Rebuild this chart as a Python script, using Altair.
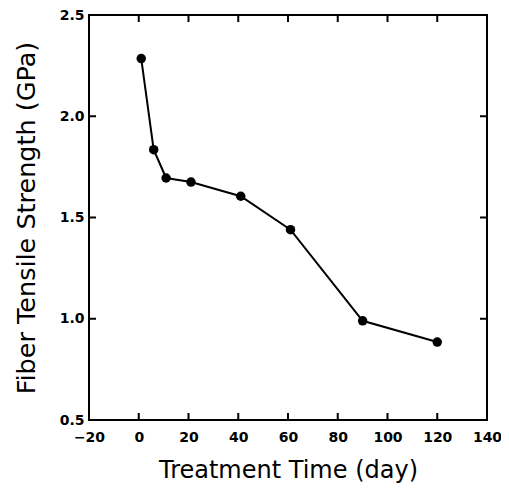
import altair as alt
import pandas as pd

# Data
days = [1, 6, 11, 21, 41, 61, 90, 120]
strength = [2.285, 1.835, 1.695, 1.675, 1.605, 1.44, 0.99, 0.885]
x_ticks = [-20, 0, 20, 40, 60, 80, 100, 120, 140]
y_ticks = [0.5, 1.0, 1.5, 2.0, 2.5]

df = pd.DataFrame({"day": days, "strength": strength})
xt = pd.DataFrame({"v": x_ticks})
yt = pd.DataFrame({"v": y_ticks})

W, H = 398, 405
TICK = 7
FONT = "DejaVu Sans"

xs = alt.Scale(domain=[-20, 140], nice=False, zero=False)
ys = alt.Scale(domain=[0.5, 2.5], nice=False, zero=False)

x_main = alt.Axis(
    values=x_ticks, format="d", orient="bottom", domain=False, ticks=False, grid=False,
    labelFont=FONT, labelFontSize=14, labelFontWeight="bold", labelColor="black",
    labelPadding=10, labelFlush=False,
    titleFont=FONT, titleFontSize=24, titleFontWeight="normal", titleColor="black",
    titlePadding=14,
)
y_main = alt.Axis(
    values=y_ticks, format=".1f", orient="left", domain=False, ticks=False, grid=False,
    labelFont=FONT, labelFontSize=14, labelFontWeight="bold", labelColor="black",
    labelPadding=5, labelFlush=False,
    titleFont=FONT, titleFontSize=25.5, titleFontWeight="normal", titleColor="black",
    titlePadding=20,
)

line = alt.Chart(df).mark_line(color="black", strokeWidth=2).encode(
    x=alt.X("day:Q", scale=xs, axis=x_main, title="Treatment Time (day)"),
    y=alt.Y("strength:Q", scale=ys, axis=y_main, title="Fiber Tensile Strength (GPa)"),
)

points = alt.Chart(df).mark_circle(size=90, color="black", opacity=1).encode(
    x=alt.X("day:Q", scale=xs),
    y=alt.Y("strength:Q", scale=ys),
)

# inward ticks on all four sides
xtick_bottom = alt.Chart(xt).mark_rule(color="black", strokeWidth=2).encode(
    x=alt.X("v:Q", scale=xs),
    y=alt.value(H),
    y2=alt.value(H - TICK),
)
xtick_top = alt.Chart(xt).mark_rule(color="black", strokeWidth=2).encode(
    x=alt.X("v:Q", scale=xs),
    y=alt.value(0),
    y2=alt.value(TICK),
)
ytick_left = alt.Chart(yt).mark_rule(color="black", strokeWidth=2).encode(
    y=alt.Y("v:Q", scale=ys),
    x=alt.value(0),
    x2=alt.value(TICK),
)
ytick_right = alt.Chart(yt).mark_rule(color="black", strokeWidth=2).encode(
    y=alt.Y("v:Q", scale=ys),
    x=alt.value(W),
    x2=alt.value(W - TICK),
)

chart = (
    alt.layer(line, points, xtick_bottom, xtick_top, ytick_left, ytick_right)
    .properties(
        width=W,
        height=H,
        autosize=alt.AutoSizeParams(type="none"),
        padding={"left": 81, "top": 7, "right": 14, "bottom": 68},
        background="white",
    )
    .configure_view(stroke="black", strokeWidth=2)
)

chart.save("out.html", embed_options={"renderer": "svg", "actions": False})
